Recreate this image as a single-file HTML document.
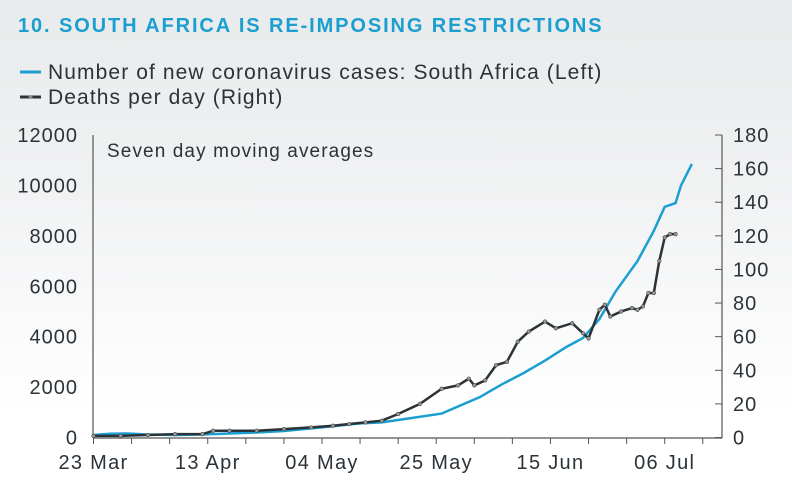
<!DOCTYPE html>
<html><head><meta charset="utf-8"><style>
html,body{margin:0;padding:0}
body{width:792px;height:483px;overflow:hidden;background:linear-gradient(#e8eaeb 0%,#f1f2f3 40%,#ffffff 85%);font-family:"Liberation Sans",sans-serif;}
svg{position:absolute;left:0;top:0}
</style></head><body>
<svg width="792" height="483" id="chart">
<text x="18" y="32" font-size="20" font-weight="bold" fill="#1a9fd0" letter-spacing="1.9">10.  SOUTH AFRICA IS RE-IMPOSING RESTRICTIONS</text>
<g>
<line x1="20" y1="72" x2="41" y2="72" stroke="#1a9fd0" stroke-width="3"/>
<text x="48" y="79" font-size="21" fill="#2b3338" letter-spacing="1.1">Number of new coronavirus cases: South Africa (Left)</text>
<line x1="20" y1="97" x2="41" y2="97" stroke="#2b3338" stroke-width="3"/>
<circle cx="30.5" cy="97" r="2" fill="#888"/>
<text x="48" y="104" font-size="21" fill="#2b3338" letter-spacing="1.1">Deaths per day (Right)</text>
</g>
<text x="107" y="157" font-size="19" fill="#2b3338" letter-spacing="1.1">Seven day moving averages</text>
<line x1="93" y1="135" x2="93" y2="438" stroke="#555" stroke-width="1.2"/>
<line x1="722" y1="135" x2="722" y2="438" stroke="#555" stroke-width="1.2"/>
<line x1="93" y1="438" x2="722" y2="438" stroke="#555" stroke-width="1.2"/>
<g id="axes"></g>
<g id="series"></g>
</svg>
<script>
const leftTicks=[0,2000,4000,6000,8000,10000,12000];
const rightTicks=[0,20,40,60,80,100,120,140,160,180];
const xLabels=["23 Mar","13 Apr","04 May","25 May","15 Jun","06 Jul"];
const caseDays=[0,3,6,10,15,20,25,30,35,42,49,53,58,64,71,75,79,83,87,90,93,96,100,103,105,107,108,110];
const caseValues=[100,150,160,120,100,120,160,200,260,400,560,600,760,950,1600,2100,2550,3050,3600,3950,4700,5800,7000,8200,9150,9300,10000,10850];
const deathDays=[0,5,10,15,20,22,25,30,35,40,44,47,50,53,56,60,64,67,69,70,72,74,76,78,80,83,85,88,90,91,93,94,95,97,99,100,101,102,103,104,105,106,107];
const deathValues=[1,1,1.5,2,2,4,4,4,5,6,7,8,9,10,14,20,29,31,35,31,34,43,45,57,63,69,65,68,62,59,76,79,72,75,77,76,78,86,86,105,119,121,121];
const X=d=>93.5+d*5.44;
const YL=v=>437.5-v*(302.5/12000);
const YR=v=>437.5-v*(302.5/180);
const ns="http://www.w3.org/2000/svg";
const ax=document.getElementById('axes'), se=document.getElementById('series');
function mk(t,a,p){const e=document.createElementNS(ns,t);for(const k in a)e.setAttribute(k,a[k]);p.appendChild(e);return e;}
leftTicks.forEach(v=>{
 const t=mk('text',{x:78,y:YL(v)+7,'text-anchor':'end','font-size':20,'letter-spacing':1,fill:'#2b3338'},ax);t.textContent=v;
 
 
});
rightTicks.forEach(v=>{
 const l=mk('line',{x1:722,x2:715,y1:YR(v),y2:YR(v),stroke:'#555'},ax);
 
 
 const t=mk('text',{x:733,y:YR(v)+7,'font-size':20,'letter-spacing':1,fill:'#2b3338'},ax);t.textContent=v;
 
 
});
for(let w=0;w<=16;w++){
 const l=mk('line',{x1:X(w*7),x2:X(w*7),y1:438,y2:444,stroke:'#555'},ax);
 
 
}
xLabels.forEach((s,i)=>{
 const t=mk('text',{x:X(i*21),y:469,'text-anchor':'middle','font-size':20,'letter-spacing':1.3,fill:'#2b3338'},ax);t.textContent=s;
 
 
});
const cp=mk('polyline',{points:caseDays.map((d,i)=>X(d)+','+YL(caseValues[i])).join(' '),fill:'none',stroke:'#1a9fd0','stroke-width':2.5},se);


const dp=mk('polyline',{points:deathDays.map((d,i)=>X(d)+','+YR(deathValues[i])).join(' '),fill:'none',stroke:'#2b3338','stroke-width':2.5},se);


deathDays.forEach((d,i)=>{
 const c=mk('circle',{cx:X(d),cy:YR(deathValues[i]),r:1.8,fill:'#999',stroke:'#444','stroke-width':0.6},se);
 
 
});
</script>
</body></html>
